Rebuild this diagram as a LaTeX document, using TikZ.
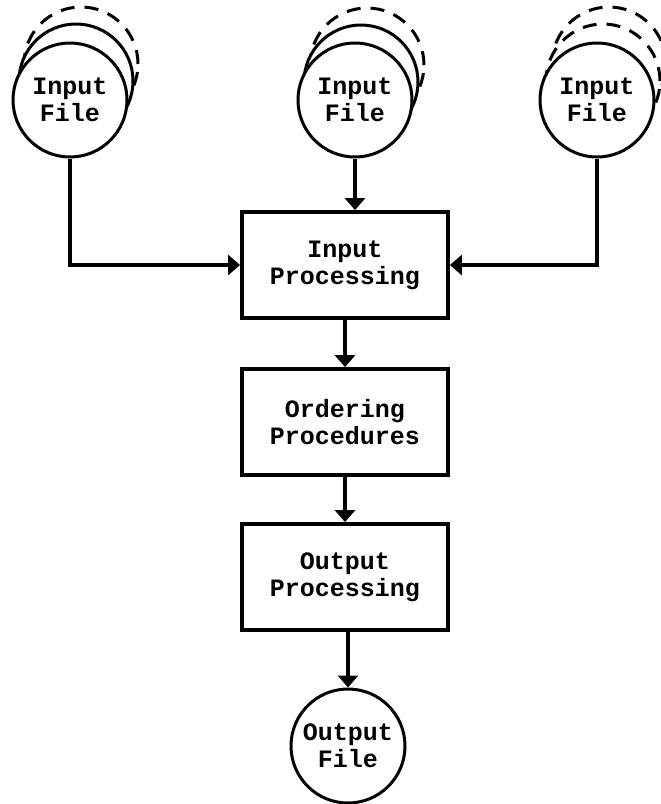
\documentclass[tikz,border=0pt]{standalone}
\usepackage{fontspec}
\setmonofont{Liberation Mono}
\usetikzlibrary{arrows.meta}
\pgfdeclarelayer{edgelayer}
\pgfdeclarelayer{nodelayer}
\pgfsetlayers{edgelayer,nodelayer,main}
\newcommand{\typefont}{\ttfamily\bfseries\fontsize{12.5}{13.5}\selectfont}
\tikzstyle{file}=[circle, fill=white, draw=black, line width=1.5pt, minimum size=57pt, inner sep=0pt, align=center, font=\typefont]
\tikzstyle{stack}=[file]
\tikzstyle{ghost}=[file, dash pattern=on 7pt off 5pt]
\tikzstyle{stage}=[rectangle, fill=white, draw=black, line width=1.9pt, minimum width=103pt, minimum height=53pt, align=center, font=\typefont]
\tikzstyle{flow}=[-{Triangle[width=10pt, length=6pt]}, draw=black, line width=1.6pt]

\begin{document}
\begin{tikzpicture}[x=0.5pt, y=-0.5pt]
            \useasboundingbox (0, 0) rectangle (660, 804);
            \begin{pgfonlayer}{nodelayer}
                % older generations of each input file
                \node [style=ghost] (in1c) at (81, 64) {};
                \node [style=stack] (in1b) at (76, 81) {};
                \node [style=ghost] (in2c) at (367, 65) {};
                \node [style=stack] (in2b) at (361, 82) {};
                \node [style=ghost] (in3c) at (609, 64) {};
                \node [style=ghost] (in3b) at (603, 81) {};

                \node [style=file] (in1) at (70, 100) {Input\\File};
                \node [style=file] (in2) at (355, 100) {Input\\File};
                \node [style=file] (in3) at (597, 100) {Input\\File};

                \node [style=stage] (inproc) at (345, 265) {Input\\Processing};
                \node [style=stage] (order) at (345, 422) {Ordering\\Procedures};
                \node [style=stage] (outproc) at (345, 577) {Output\\Processing};
                \node [style=file] (out) at (348, 746) {Output\\File};
            \end{pgfonlayer}
            \begin{pgfonlayer}{edgelayer}
                \draw [style=flow] (in1) |- (inproc);
                \draw [style=flow] (in3) |- (inproc);
                \draw [style=flow] (in2.south) -- (in2.south |- inproc.north);
                \draw [style=flow] (inproc) -- (order);
                \draw [style=flow] (order) -- (outproc);
                \draw [style=flow] (outproc.south -| out.north) -- (out.north);
            \end{pgfonlayer}
        \end{tikzpicture}
\end{document}
